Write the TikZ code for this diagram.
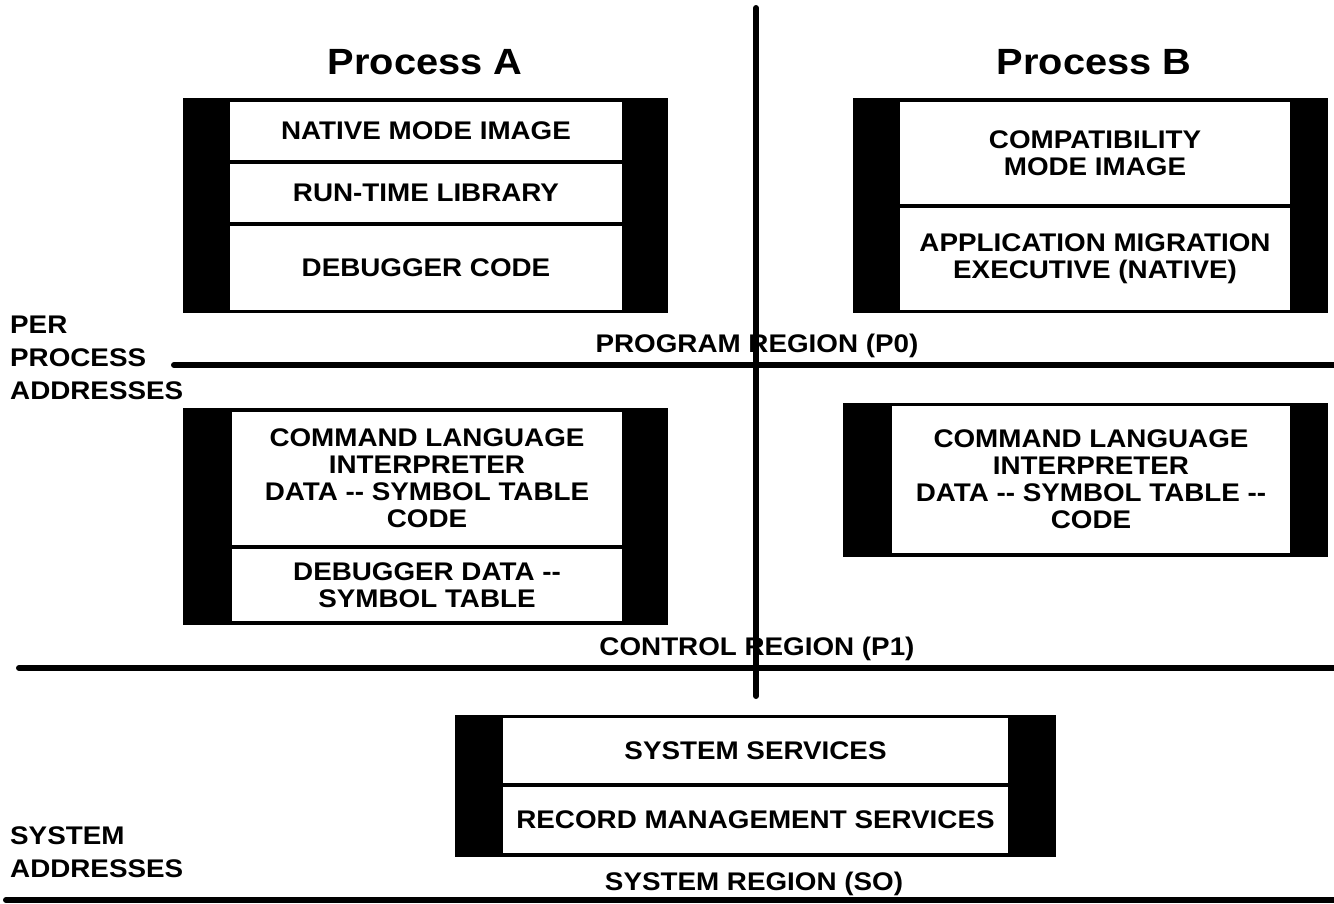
\documentclass[tikz,border=0pt]{standalone}
\usepackage{fontspec}
\newfontfamily\lbl{Liberation Sans}[FakeStretch=1.09]
\tikzset{
  bar/.style={fill=black, inner sep=0pt, outer sep=0pt},
  cell/.style={fill=white, inner sep=0pt, outer sep=0pt, align=center,
    font=\lbl\bfseries\fontsize{25.5}{27}\selectfont},
  txt/.style={inner sep=0pt, align=center, font=\lbl\bfseries\fontsize{25.5}{27}\selectfont},
  side/.style={inner sep=0pt, align=left, anchor=west, font=\lbl\bfseries\fontsize{25.5}{33}\selectfont},
  title/.style={inner sep=0pt, font=\lbl\bfseries\fontsize{36.5}{40}\selectfont},
  rule/.style={line width=6pt, line cap=round},
}
\begin{document}
\begin{tikzpicture}[x=1pt,y=-1pt]
\useasboundingbox (0,0) rectangle (1334,903);
\fill[white] (0,0) rectangle (1334,903);

% titles
\node[title] (tA) at (425,62) {Process A};
\node[title] (tB) at (1094,62) {Process B};

% process A, program region
\node[bar, minimum width=485pt, minimum height=215pt] (A0) at (425.5,205.5) {};
\node[cell, minimum width=392pt, minimum height=58pt] (nmi) at (426,131) {NATIVE MODE IMAGE};
\node[cell, minimum width=392pt, minimum height=58pt] (rtl) at (426,193) {RUN-TIME LIBRARY};
\node[cell, minimum width=392pt, minimum height=84pt] (dbc) at (426,268) {DEBUGGER CODE};

% process B, program region
\node[bar, minimum width=475pt, minimum height=215pt] (B0) at (1090.5,205.5) {};
\node[cell, minimum width=390pt, minimum height=102pt] (cmi) at (1095,153) {COMPATIBILITY\\MODE IMAGE};
\node[cell, minimum width=390pt, minimum height=102pt] (ame) at (1095,259) {APPLICATION MIGRATION\\EXECUTIVE (NATIVE)};

% process A, control region
\node[bar, minimum width=485pt, minimum height=217pt] (A1) at (425.5,516.5) {};
\node[cell, minimum width=390pt, minimum height=133pt] (cliA) at (427,478.5) {COMMAND LANGUAGE\\INTERPRETER\\DATA -{}- SYMBOL TABLE\\CODE};
\node[cell, minimum width=390pt, minimum height=72pt] (dbd) at (427,585) {DEBUGGER DATA -{}-\\SYMBOL TABLE};

% process B, control region
\node[bar, minimum width=485pt, minimum height=154pt] (B1) at (1085.5,480) {};
\node[cell, minimum width=398pt, minimum height=147pt] (cliB) at (1091,479.5) {COMMAND LANGUAGE\\INTERPRETER\\DATA -{}- SYMBOL TABLE -{}-\\CODE};

% system region
\node[bar, minimum width=601pt, minimum height=142pt] (S) at (755.5,786) {};
\node[cell, minimum width=505pt, minimum height=65pt] (ss) at (755.5,750.5) {SYSTEM SERVICES};
\node[cell, minimum width=505pt, minimum height=66pt] (rms) at (755.5,820) {RECORD MANAGEMENT SERVICES};

% dividing rules
\coordinate (vT) at (756,8);
\coordinate (vB) at (756,696);
\coordinate (p0L) at (174,365);
\coordinate (p0R) at (1334,365);
\coordinate (p1L) at (19,668);
\coordinate (p1R) at (1334,668);
\coordinate (s0L) at (6,900);
\coordinate (s0R) at (1334,900);
\draw[rule] (vT) -- (vB);
\draw[rule] (p0L) -- (p0R);
\draw[rule] (p1L) -- (p1R);
\draw[rule] (s0L) -- (s0R);

% region labels
\node[txt] (lp0) at (757,346) {PROGRAM REGION (P0)};
\node[txt] (lp1) at (757,649) {CONTROL REGION (P1)};
\node[txt] (ls0) at (754,884) {SYSTEM REGION (SO)};

% side labels
\node[side] (ppa) at (10,358) {PER\\PROCESS\\ADDRESSES};
\node[side] (sa) at (10,852) {SYSTEM\\ADDRESSES};
\end{tikzpicture}
\end{document}
